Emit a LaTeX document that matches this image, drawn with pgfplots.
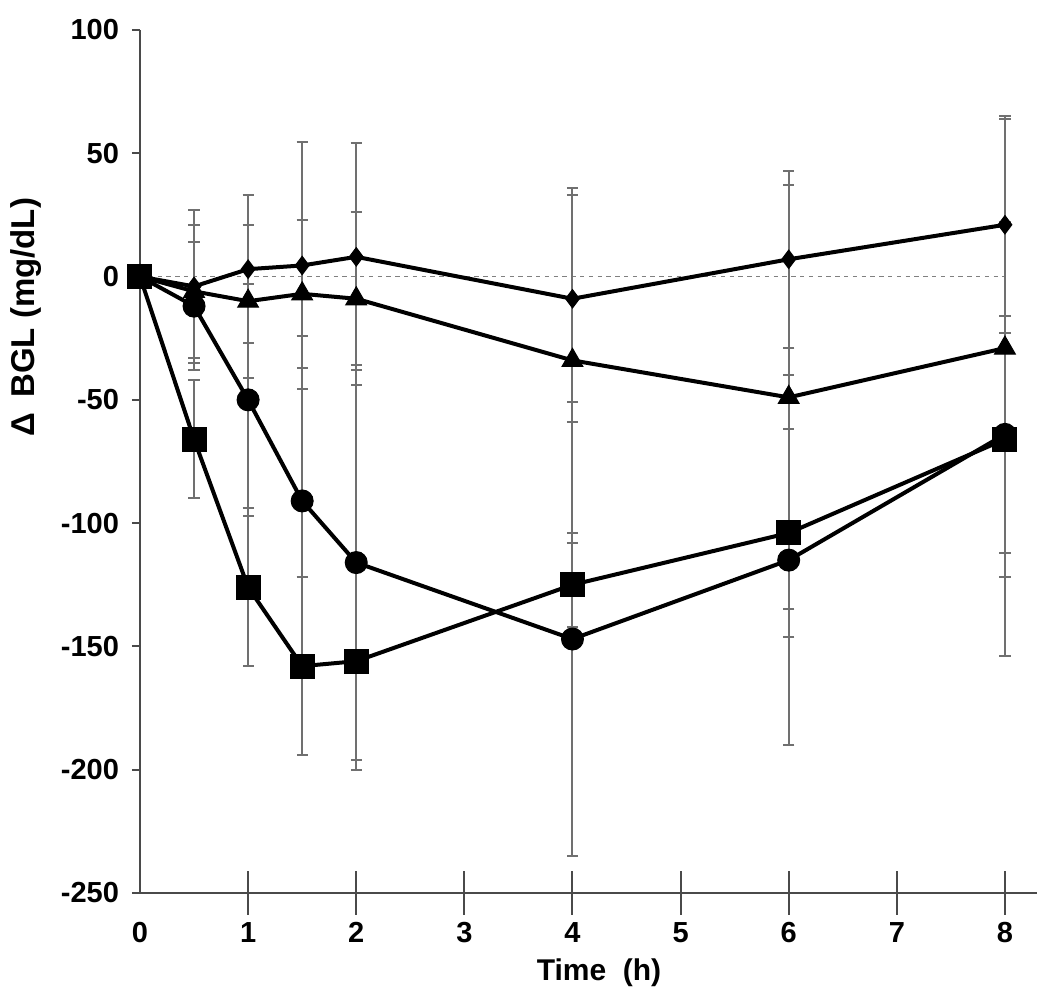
\documentclass[border=0pt]{standalone}
\usepackage{pgfplots}
\usepackage{pgfplotstable}
\pgfplotsset{compat=1.18}
\usepackage{fontspec}
\setmainfont{Liberation Sans}
\definecolor{errgray}{HTML}{707070}
\definecolor{axgray}{HTML}{4A4A4A}

\pgfplotstableread{
x y e
0 0 0
0.5 -4 31
1 3 30
1.5 4.5 50
2 8 46
4 -9 42
6 7 36
8 21 44
}\diamdata
\pgfplotstableread{
x y e
0 0 0
0.5 -6 27
1 -10 31
1.5 -7 30
2 -9 35
4 -34 70
6 -49 86
8 -29 93
}\tridata
\pgfplotstableread{
x y e
0 0 0
0.5 -12 26
1 -50 47
1.5 -91 67
2 -116 80
4 -147 88
6 -115 75
8 -64 48
}\circdata
\pgfplotstableread{
x y e
0 0 0
0.5 -66 24
1 -126 32
1.5 -158 36
2 -156 44
4 -125 17
6 -104 42
8 -66 88
}\sqdata

\begin{document}
\begin{tikzpicture}
\path[use as bounding box] (0,0) rectangle (525pt,497pt);
\begin{axis}[
  at={(70pt,50.5pt)}, anchor=south west,
  scale only axis,
  width=448.7pt, height=431.5pt,
  xmin=0, xmax=8.3,
  ymin=-250, ymax=100,
  axis lines*=left,
  axis line style={axgray, line width=1pt},
  xtick={1,2,3,4,5,6,7,8},
  xtick align=center,
  major tick length=22pt,
  extra x ticks={0},
  extra x tick style={major tick length=0pt, xticklabel style={yshift=-11pt}},
  ytick=\empty,
  extra y ticks={-250,-200,-150,-100,-50,0,50,100},
  extra y tick style={major tick length=4pt, tick align=outside},
  tick style={axgray, line width=1pt},
  /pgf/number format/assume math mode=true,
  ticklabel style={font=\fontsize{14.5}{17}\selectfont\bfseries},
  yticklabel style={xshift=-3pt},
  xlabel={Time\ \ (h)},
  ylabel={Δ\, BGL (mg/dL)},
  every axis x label/.style={at={(rel axis cs:0,0)}, xshift=229.5pt, yshift=-40pt, anchor=center, font=\fontsize{15}{18}\selectfont\bfseries},
  every axis y label/.style={at={(rel axis cs:0,0)}, xshift=-57pt, yshift=288pt, rotate=90, anchor=center, font=\fontsize{16.5}{20}\selectfont\bfseries},
  clip=false,
  ebar/.style={draw=none, mark=none, forget plot,
    error bars/.cd, y dir=both, y explicit,
    error bar style={draw=errgray, line width=1pt},
    error mark options={rotate=90, draw=errgray, mark size=2.8pt, line width=1pt}},
  ser/.style={black, line width=2pt, mark options={solid, fill=black, draw=black, line width=0.5pt}},
]
% zero reference line
\addplot[forget plot, gray, line width=0.7pt, dash pattern=on 2.2pt off 2.2pt] coordinates {(0,0) (8,0)};
% error bars behind
\addplot[ebar] table[x=x, y=y, y error=e] {\diamdata};
\addplot[ebar] table[x=x, y=y, y error=e] {\tridata};
\addplot[ebar] table[x=x, y=y, y error=e] {\circdata};
\addplot[ebar] table[x=x, y=y, y error=e] {\sqdata};
% series
\addplot[ser, mark=diamond*, mark size=4.6pt] table[x=x, y=y] {\diamdata};
\addplot[ser, mark=triangle*, mark size=6pt] table[x=x, y=y] {\tridata};
\addplot[ser, mark=*, mark size=5.5pt] table[x=x, y=y] {\circdata};
\addplot[ser, mark=square*, mark size=6pt] table[x=x, y=y] {\sqdata};
\end{axis}
\end{tikzpicture}
\end{document}
